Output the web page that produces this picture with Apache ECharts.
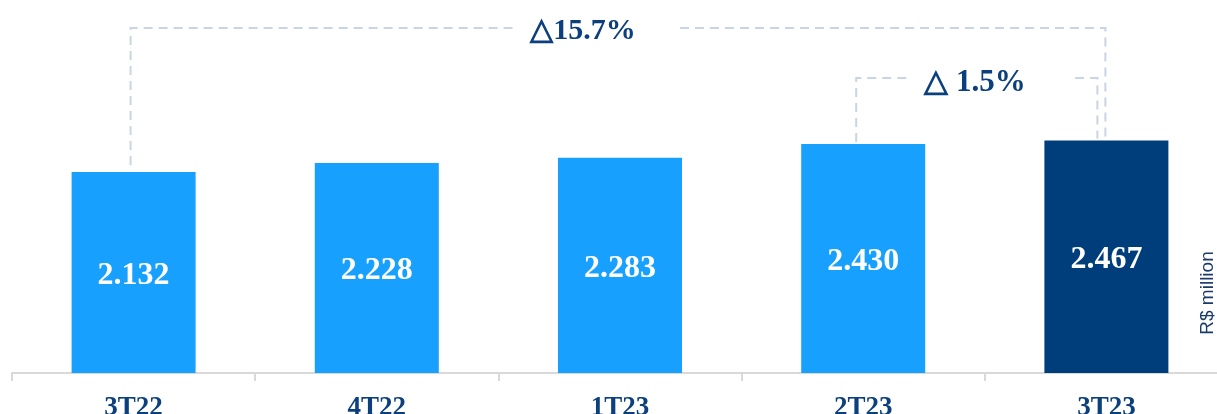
<!DOCTYPE html>
<html>
<head>
<meta charset="utf-8">
<script src="https://cdn.jsdelivr.net/npm/echarts@6/dist/echarts.min.js"></script>
<style>html,body{margin:0;padding:0;background:#fff;}#c{width:1217px;height:414px;}</style>
</head>
<body>
<div id="c"></div>
<script>
const categories = ['3T22', '4T22', '1T23', '2T23', '3T23'];
const values = [2.132, 2.228, 2.283, 2.430, 2.467];
const labels = ['2.132', '2.228', '2.283', '2.430', '2.467'];
const growthLong = '△15.7%';
const growthShort = '△ 1.5%';
const unitLabel = 'R$ million';

const LIGHT = '#18a0fe', DARK = '#003d7b', NAVY = '#0b3f7e', DASH = '#c9d5e3';
const serif = '"Liberation Serif", "Times New Roman", serif';

const chart = echarts.init(document.getElementById('c'));
chart.setOption({
  animation: false,
  grid: { left: 12, width: 1216, top: 43, bottom: 41, containLabel: false, outerBoundsMode: 'none' },
  xAxis: {
    type: 'category', data: categories,
    axisLine: { lineStyle: { color: '#d9d9d9', width: 2 } },
    axisTick: { show: true, length: 8, lineStyle: { color: '#d9d9d9', width: 2 } },
    axisLabel: { margin: 22, fontFamily: serif, fontWeight: 'bold', fontSize: 27, color: NAVY }
  },
  yAxis: { type: 'value', min: 0, max: 3.5, show: false, splitLine: { show: false } },
  series: [{
    type: 'bar', barWidth: 124,
    data: values.map((v, i) => ({ value: v, itemStyle: { color: i === values.length - 1 ? DARK : LIGHT } })),
    label: {
      show: true, position: 'inside', offset: [0, 3], color: '#fff', fontFamily: serif, fontWeight: 'bold', fontSize: 32,
      formatter: p => labels[p.dataIndex]
    }
  }]
});

function px(i) { return chart.convertToPixel({ xAxisIndex: 0, yAxisIndex: 0 }, [i, values[i]]); }
const p0 = px(0), p3 = px(3), p4 = px(4);
const dashStyle = { stroke: DASH, lineWidth: 2, lineDash: [9, 6], fill: null };
function poly(points) { return { type: 'polyline', shape: { points }, style: dashStyle, silent: true }; }

const yTop = 28, yMid = 78;
const xL1 = p0[0] - 3, xR1 = p4[0] - 1;
const xL2 = p3[0] - 7, xR2 = p4[0] - 9;
chart.setOption({
  graphic: [
    poly([[xL1, p0[1] - 7], [xL1, yTop], [518, yTop]]),
    poly([[680, yTop], [xR1, yTop], [xR1, p4[1] - 2]]),
    poly([[xL2, p3[1] - 2], [xL2, yMid], [912, yMid]]),
    poly([[1075, yMid], [xR2, yMid], [xR2, p4[1] - 2]]),
    { type: 'text', x: 583, y: 31, style: { text: growthLong, fill: NAVY, font: 'bold 30px ' + serif, textAlign: 'center', textVerticalAlign: 'middle' } },
    { type: 'text', x: 975, y: 83, style: { text: growthShort, fill: NAVY, font: 'bold 31px ' + serif, textAlign: 'center', textVerticalAlign: 'middle' } },
    { type: 'text', x: 1208, y: 293, rotation: Math.PI / 2, style: { text: unitLabel, fill: '#1a3a6c', font: '19px "Liberation Sans", Arial, sans-serif', textAlign: 'center', textVerticalAlign: 'middle' } }
  ]
});
</script>
</body>
</html>
